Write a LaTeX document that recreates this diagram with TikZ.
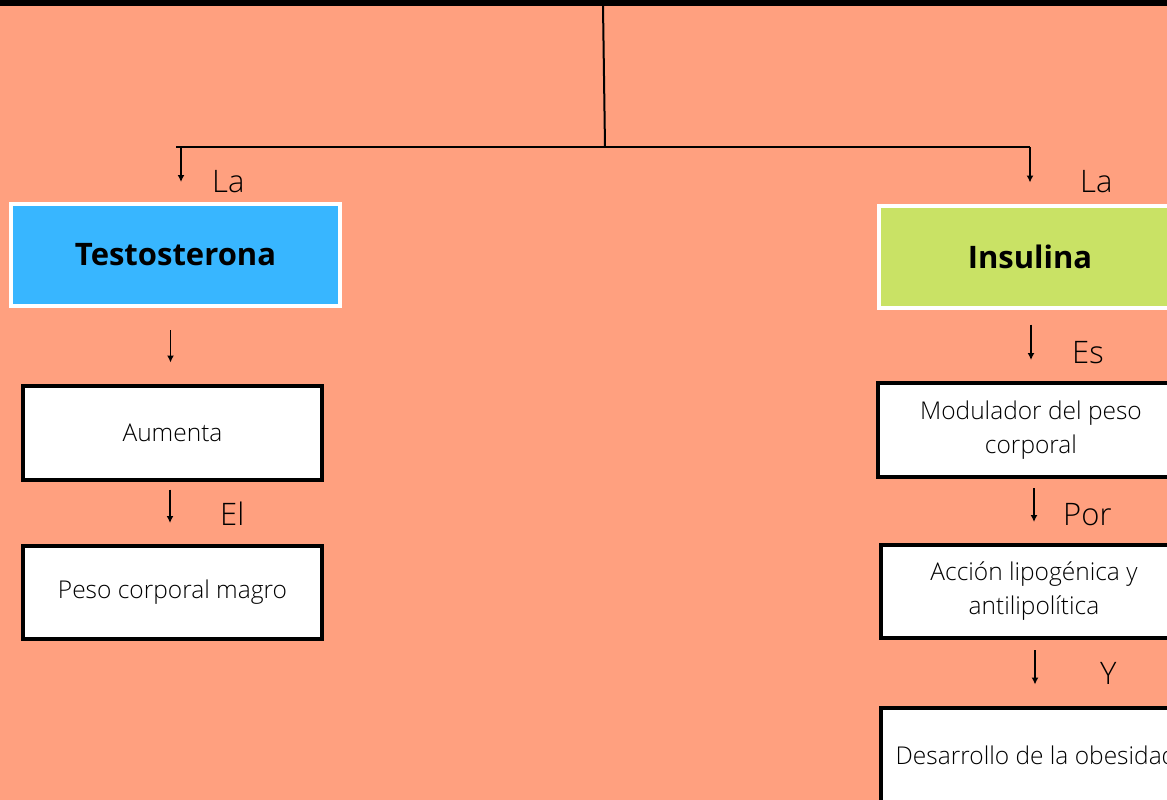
\documentclass[tikz,border=0pt]{standalone}
\usepackage{fontspec}
\setmainfont{Open Sans}
\newfontfamily\fina{Open Sans Light}
\usetikzlibrary{arrows.meta}
\definecolor{fondo}{HTML}{FFA07F}
\definecolor{azul}{HTML}{38B6FF}
\definecolor{verde}{HTML}{C9E265}
\begin{document}
\begin{tikzpicture}[x=1pt,y=-1pt]
  \tikzstyle{caja}=[draw=black, line width=4pt, fill=white, minimum width=299pt,
  minimum height=94pt, align=center,
  font=\fina\fontsize{24.5}{34}\selectfont]
  \tikzstyle{titulo}=[draw=white, line width=4pt, minimum width=329pt,
  minimum height=102pt, font=\bfseries\fontsize{31}{36}\selectfont]
  \tikzstyle{etiqueta}=[anchor=base west, inner sep=0pt,
  font=\fina\fontsize{31}{36}\selectfont]
  \tikzstyle{linea}=[line width=2pt]
  \tikzstyle{flecha}=[-{Latex[length=7pt,width=7pt]},line width=1.6pt]
  \useasboundingbox (0,0) rectangle (1167,800);
  \fill[fondo] (0,0) rectangle (1167,800);
  \clip (0,0) rectangle (1167,800);
  \fill[black] (0,0) rectangle (1167,6);
  % cajas
  \node[titulo, fill=azul] (testo) at (175.5,255) {Testosterona};
  \node[titulo, fill=verde, minimum width=302pt] (insulina) at (1030,256.5) {Insulina};
  \node[caja] (aumenta) at (172.5,432.5) {Aumenta};
  \node[caja, minimum height=93pt] (peso) at (172.5,592.5) {Peso corporal magro};
  \node[caja, minimum width=306pt] (modulador) at (1031,430) {Modulador del peso\\corporal};
  \node[caja, minimum width=306pt, minimum height=93pt] (accion) at (1034,591.5)
  {Acci\'on lipog\'enica y\\antilipol\'itica};
  \node[caja, minimum width=310pt, minimum height=95pt] (desarrollo)
  at (1036,755) {Desarrollo de la obesidad};
  % etiquetas
  \foreach \n/\x/\y/\t in {la1/212/192/La, la2/1080/192/La, el/220/525/El,
    es/1072/363/Es, por/1063/525/Por, y/1100/684/Y} {
    \node[etiqueta] (\n) at (\x,\y) {\t};
  }
  % conectores
  \coordinate (raiz) at (603,6);
  \coordinate (nudo) at (605,147);
  \coordinate (extremo) at (176,147);
  \coordinate (bajaIzq) at (181,147);
  \coordinate (bajaDer) at (1030,147);
  \draw[linea] (raiz) -- (nudo);
  \draw[linea] (extremo) -- (bajaDer);
  \draw[flecha, shorten >=20pt] (bajaIzq) -- (bajaIzq |- testo.north);
  \draw[flecha, shorten >=21pt] (bajaDer) -- (bajaDer |- insulina.north);
  \foreach \a/\b/\s/\d in {testo/aumenta/22/-5, aumenta/peso/8/-2.5,
    insulina/modulador/15/1, modulador/accion/9/3, accion/desarrollo/10/1} {
    \draw[flecha, shorten <=\s pt, shorten >=21pt]
      ([xshift=\d pt]\a.south) -- ([xshift=\d pt]\a.south |- \b.north);
  }
\end{tikzpicture}
\end{document}
